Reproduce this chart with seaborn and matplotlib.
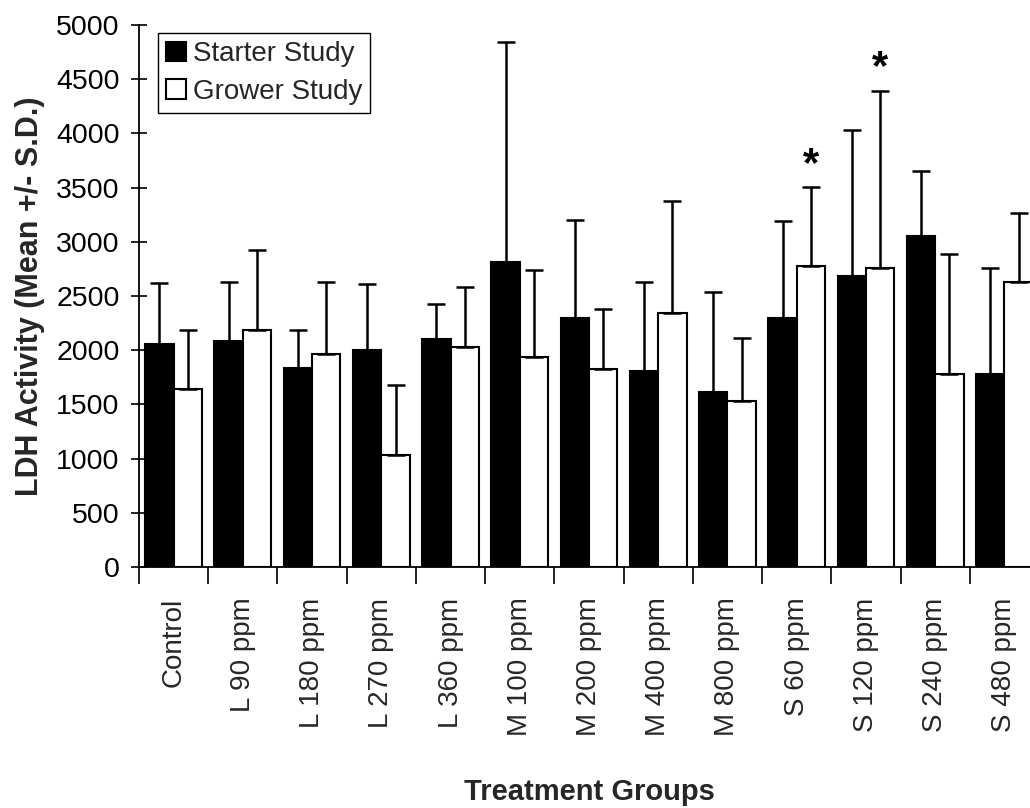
import numpy as np
import pandas as pd
import matplotlib
matplotlib.use("Agg")
import matplotlib.pyplot as plt
import seaborn as sns
from matplotlib.ticker import FixedLocator

groups = ["Control", "L 90 ppm", "L 180 ppm", "L 270 ppm", "L 360 ppm",
          "M 100 ppm", "M 200 ppm", "M 400 ppm", "M 800 ppm",
          "S 60 ppm", "S 120 ppm", "S 240 ppm", "S 480 ppm"]
starter_mean = [2060, 2085, 1835, 2000, 2100, 2810, 2295, 1805, 1610, 2295, 2680, 3050, 1780]
starter_sd = [560, 545, 355, 610, 330, 2030, 910, 820, 930, 900, 1355, 605, 975]
grower_mean = [1640, 2190, 1965, 1030, 2030, 1940, 1825, 2340, 1535, 2775, 2760, 1780, 2625]
grower_sd = [550, 730, 665, 645, 555, 800, 555, 1035, 575, 730, 1635, 1105, 640]
significant_grower = ["S 60 ppm", "S 120 ppm"]
studies = ["Starter Study", "Grower Study"]
yticks = [0, 500, 1000, 1500, 2000, 2500, 3000, 3500, 4000, 4500, 5000]

df = pd.DataFrame({
    "group": groups * 2,
    "study": [studies[0]] * len(groups) + [studies[1]] * len(groups),
    "mean": starter_mean + grower_mean,
    "sd": starter_sd + grower_sd,
})

sns.set_style("ticks")
plt.rcParams["font.family"] = ["Liberation Sans", "DejaVu Sans"]

W, H = 1030, 808
fig = plt.figure(figsize=(W / 100, H / 100), dpi=100)
ax = fig.add_axes([139 / W, (H - 567) / H, 900 / W, 542 / H])

sns.barplot(data=df, x="group", y="mean", hue="study", order=groups, hue_order=studies,
            palette={studies[0]: "black", studies[1]: "white"}, edgecolor="black",
            linewidth=1.5, width=0.82, errorbar=None, saturation=1, ax=ax)

sds = [starter_sd, grower_sd]
for cont, sd in zip(ax.containers, sds):
    xs = [b.get_x() + b.get_width() / 2 for b in cont]
    ys = [b.get_height() for b in cont]
    ax.errorbar(xs, ys, yerr=[np.zeros(len(sd)), sd], fmt="none", ecolor="black",
                elinewidth=1.8, capsize=6.5, capthick=1.8, zorder=3)

# significance stars
gcont = ax.containers[1]
for g in significant_grower:
    i = groups.index(g)
    b = gcont[i]
    top = grower_mean[i] + grower_sd[i]
    ax.text(b.get_x() + b.get_width() / 2, top + 20, "*", ha="center", va="bottom",
            fontsize=30, fontweight="bold", color="black")

ax.set_xlim(-0.5, len(groups) - 0.5)
ax.set_ylim(0, 5000)
ax.set_yticks(yticks)
ax.set_yticklabels([str(v) for v in yticks])
ax.tick_params(axis="y", direction="inout", length=12, width=1.2, labelsize=20.5, pad=8, colors="black")

ax.tick_params(axis="x", which="major", length=0, labelsize=20, pad=22, rotation=90)
ax.xaxis.set_minor_locator(FixedLocator(np.arange(-0.5, len(groups), 1.0)))
ax.tick_params(axis="x", which="minor", direction="out", length=12, width=1.2, color="black")

for s in ["top", "right"]:
    ax.spines[s].set_visible(False)
for s in ["left", "bottom"]:
    ax.spines[s].set_color("black")
    ax.spines[s].set_linewidth(1.3)

ax.set_ylabel("LDH Activity (Mean +/- S.D.)", fontsize=22, fontweight="bold", labelpad=8)
ax.set_xlabel("Treatment Groups", fontsize=21, fontweight="bold", labelpad=30)

leg = ax.legend(loc="upper left", bbox_to_anchor=(0.021, 0.985), frameon=True, fancybox=False,
                edgecolor="black", framealpha=1, fontsize=20, handlelength=0.7, handleheight=0.7,
                handletextpad=0.25, borderpad=0.3, labelspacing=0.4, borderaxespad=0)
leg.get_frame().set_linewidth(1.0)

fig.savefig("out.png", dpi=100)
